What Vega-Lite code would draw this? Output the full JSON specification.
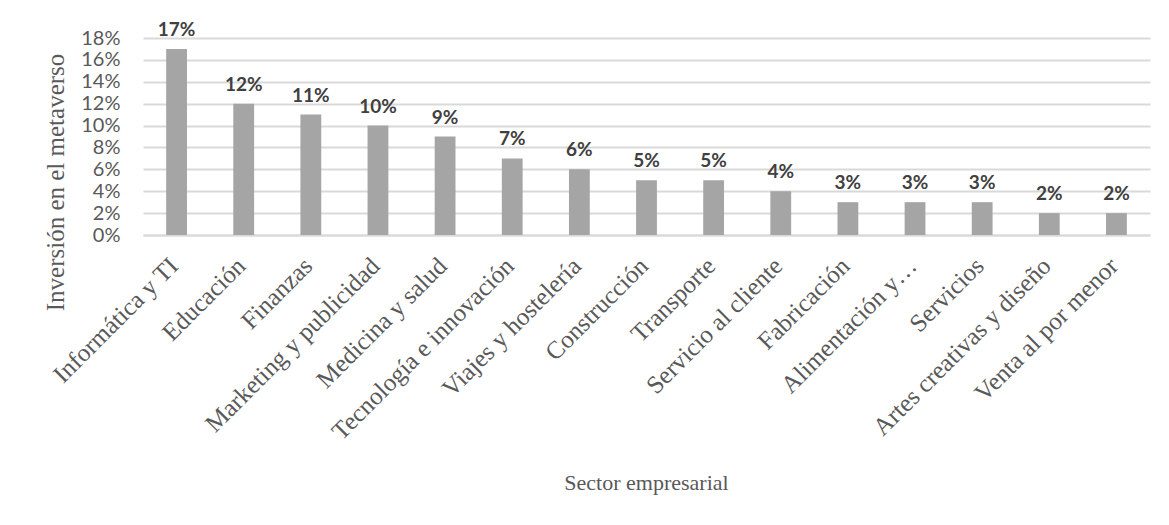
{
  "$schema": "https://vega.github.io/schema/vega-lite/v6.json",
  "autosize": "none",
  "width": 1007,
  "height": 197,
  "padding": {"left": 143, "top": 38, "right": 19, "bottom": 290},
  "background": "white",
  "config": {"view": {"stroke": null}},
  "data": {
    "values": [
      {"sector": "Informática y TI", "valor": 0.17},
      {"sector": "Educación", "valor": 0.12},
      {"sector": "Finanzas", "valor": 0.11},
      {"sector": "Marketing y publicidad", "valor": 0.10},
      {"sector": "Medicina y salud", "valor": 0.09},
      {"sector": "Tecnología e innovación", "valor": 0.07},
      {"sector": "Viajes y hostelería", "valor": 0.06},
      {"sector": "Construcción", "valor": 0.05},
      {"sector": "Transporte", "valor": 0.05},
      {"sector": "Servicio al cliente", "valor": 0.04},
      {"sector": "Fabricación", "valor": 0.03},
      {"sector": "Alimentación y…", "valor": 0.03},
      {"sector": "Servicios", "valor": 0.03},
      {"sector": "Artes creativas y diseño", "valor": 0.02},
      {"sector": "Venta al por menor", "valor": 0.02}
    ]
  },
  "encoding": {
    "x": {
      "field": "sector",
      "type": "nominal",
      "sort": null,
      "scale": {"paddingInner": 0.69, "paddingOuter": 0.345},
      "axis": {
        "title": "Sector empresarial",
        "titleFont": "Liberation Serif",
        "titleFontSize": 22,
        "titleFontWeight": "normal",
        "titleColor": "#595959",
        "titleX": 503,
        "titleY": 247,
        "titleBaseline": "middle",
        "titleAnchor": "middle",
        "labelAngle": -45,
        "labelFont": "Liberation Serif",
        "labelFontSize": 25,
        "labelColor": "#595959",
        "labelPadding": 18,
        "labelOffset": -11,
        "labelLimit": 400,
        "ticks": false,
        "domainColor": "#d9d9d9",
        "domainWidth": 2
      }
    },
    "y": {
      "field": "valor",
      "type": "quantitative",
      "scale": {"domain": [0, 0.18], "nice": false},
      "axis": {
        "title": "Inversión en el metaverso",
        "titleFont": "Liberation Serif",
        "titleFontSize": 25,
        "titleFontWeight": "normal",
        "titleColor": "#595959",
        "titleX": -88,
        "titleY": 144,
        "titleBaseline": "middle",
        "titleAlign": "center",
        "titleAngle": -90,
        "values": [0, 0.02, 0.04, 0.06, 0.08, 0.10, 0.12, 0.14, 0.16, 0.18],
        "format": ".0%",
        "labelFont": "Lato",
        "labelFontSize": 20,
        "labelColor": "#595959",
        "labelPadding": 23,
        "ticks": false,
        "domain": false,
        "gridColor": "#d9d9d9",
        "gridWidth": 2
      }
    }
  },
  "layer": [
    {"mark": {"type": "bar", "color": "#a5a5a5"}},
    {
      "mark": {"type": "text", "dy": -13, "baseline": "alphabetic", "font": "Lato", "fontWeight": "bold", "fontSize": 19, "color": "#404040"},
      "encoding": {"text": {"field": "valor", "type": "quantitative", "format": ".0%"}}
    }
  ]
}
